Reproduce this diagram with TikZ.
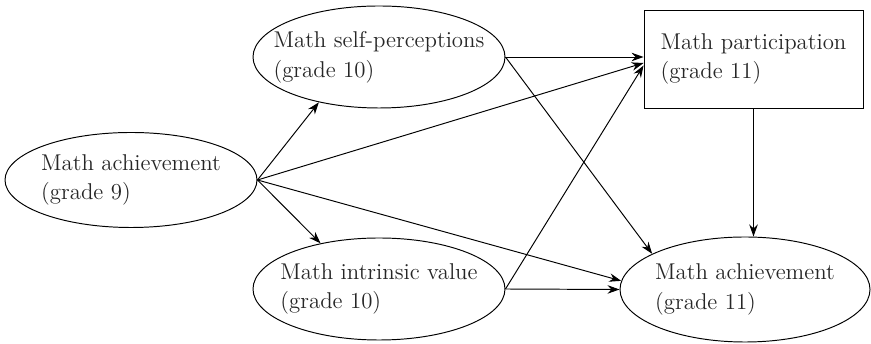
\documentclass[tikz,border=0pt]{standalone}
\usetikzlibrary{shapes.geometric,arrows.meta}

\begin{document}
\begin{tikzpicture}[
    construct/.style={ellipse, draw, line width=0.55pt, minimum width=5.04cm, minimum height=2.04cm, inner sep=0pt},
    observed/.style={rectangle, draw, line width=0.5pt, minimum width=4.38cm, minimum height=1.96cm, inner sep=0pt},
    txt/.style={align=left, font=\fontsize{13}{17}\selectfont, text=black!85},
    path/.style={-{Stealth[length=2.4mm,width=1.7mm]}, line width=0.55pt}
]
    \useasboundingbox (0,0) rectangle (17.42,6.88);
    \node[construct, minimum height=1.9cm, label={[txt]center:Math achievement\\(grade 9)}] (ach9) at (2.62,3.28) {};
    \node[construct, label={[txt]center:Math self-perceptions\\(grade 10)}] (selfp) at (7.58,5.74) {};
    \node[construct, label={[txt]center:Math intrinsic value\\(grade 10)}] (intr) at (7.58,1.10) {};
    \node[observed, label={[txt]center:Math participation\\(grade 11)}] (part) at (15.07,5.70) {};
    \node[construct, minimum width=5.0cm, minimum height=2.1cm, label={[txt]center:Math achievement\\(grade 11)}] (ach11) at (14.9,1.09) {};
    
    \draw[path] (ach9.east) -- (selfp.217);
    \draw[path] (ach9.east) -- (intr.142);
    \draw[path] (ach9.east) -- ([yshift=-0.08cm]part.west);
    \draw[path] (ach9.east) -- (ach11.176);
    \draw[path] (selfp.east) -- (selfp.east -| part.west);
    \draw[path] (selfp.east) -- (ach11.159);
    \draw[path] (intr.east) -- ([yshift=-0.13cm]part.west);
    \draw[path] (intr.east) -- (ach11.west);
    \draw[path] (part.south) -- (part.south |- ach11.north);
\end{tikzpicture}
\end{document}
